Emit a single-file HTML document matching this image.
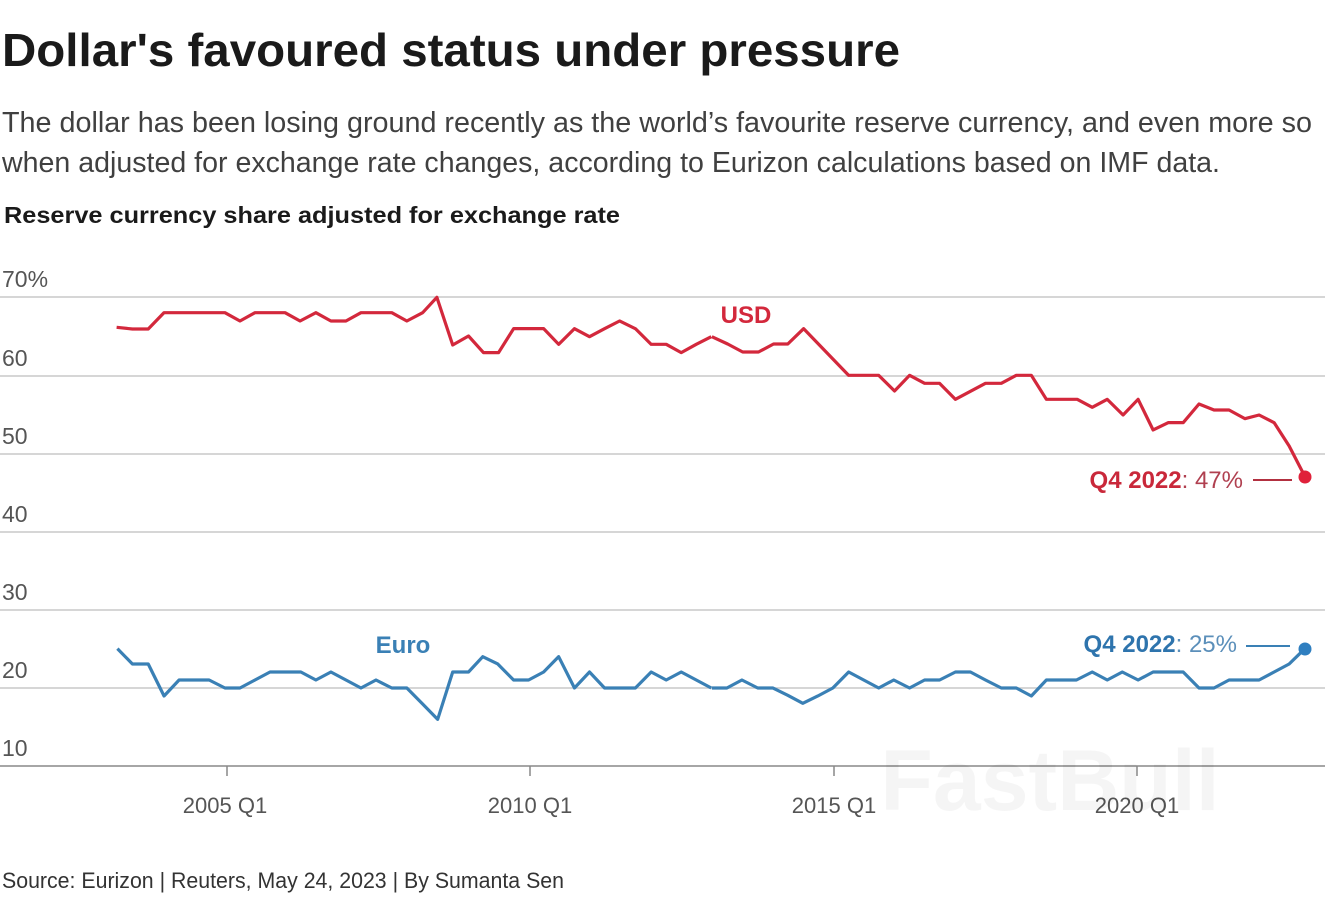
<!DOCTYPE html>
<html><head><meta charset="utf-8"><style>html,body{margin:0;padding:0;background:#fff}svg{display:block}</style></head><body>
<svg width="1328" height="900" viewBox="0 0 1328 900" xmlns="http://www.w3.org/2000/svg" font-family="Liberation Sans, sans-serif">
<text x="2" y="66" font-size="46" font-weight="bold" fill="#1a1a1a" textLength="898" lengthAdjust="spacingAndGlyphs">Dollar's favoured status under pressure</text>
<text x="2" y="132" font-size="29" fill="#404040" textLength="1310" lengthAdjust="spacingAndGlyphs">The dollar has been losing ground recently as the world’s favourite reserve currency, and even more so</text>
<text x="2" y="172" font-size="29" fill="#404040" textLength="1218" lengthAdjust="spacingAndGlyphs">when adjusted for exchange rate changes, according to Eurizon calculations based on IMF data.</text>
<text x="4" y="223" font-size="23" font-weight="bold" fill="#1a1a1a" textLength="616" lengthAdjust="spacingAndGlyphs">Reserve currency share adjusted for exchange rate</text>
<g stroke="#c8c8c8" stroke-width="1.5">
<line x1="0" x2="1325" y1="297" y2="297"/><line x1="0" x2="1325" y1="376" y2="376"/><line x1="0" x2="1325" y1="454" y2="454"/><line x1="0" x2="1325" y1="532" y2="532"/><line x1="0" x2="1325" y1="610" y2="610"/><line x1="0" x2="1325" y1="688" y2="688"/>
</g>
<line x1="0" x2="1325" y1="766" y2="766" stroke="#888" stroke-width="1.5"/>
<g stroke="#888" stroke-width="1.5"><line x1="227" x2="227" y1="766" y2="776"/><line x1="530" x2="530" y1="766" y2="776"/><line x1="834" x2="834" y1="766" y2="776"/><line x1="1137" x2="1137" y1="766" y2="776"/></g>
<g font-size="23" fill="#555">
<text x="2" y="287">70%</text><text x="2" y="366">60</text><text x="2" y="444">50</text><text x="2" y="522">40</text><text x="2" y="600">30</text><text x="2" y="678">20</text><text x="2" y="756">10</text>
</g>
<g font-size="22" fill="#555" text-anchor="middle">
<text x="225" y="813">2005 Q1</text><text x="530" y="813">2010 Q1</text><text x="834" y="813">2015 Q1</text><text x="1137" y="813">2020 Q1</text>
</g>
<text x="1050" y="810" font-size="86" font-weight="bold" fill="#000" fill-opacity="0.04" text-anchor="middle">FastBull</text>
<g fill="none" stroke="#d3283c" stroke-width="3.2" stroke-linejoin="round">
<polyline vector-effect="non-scaling-stroke" transform="translate(100,280) scale(0.3954,0.3333)" points="42,142 82,147 122,147 162,98 200,98 240,98 278,98 316,98 354,123 392,98 430,98 468,98 506,123 546,98 584,123 622,123 660,98 698,98 738,98 776,123 816,98 852,52 892,195 932,168 970,218 1008,218 1046,146 1084,146 1122,146 1160,193 1200,146 1238,170 1276,146 1314,123 1354,146 1394,193 1432,193 1470,218 1508,193 1546,170"/>
<polyline vector-effect="non-scaling-stroke" transform="translate(700,310) scale(0.3954,0.3333)" points="30,80 70,102 108,126 148,126 186,102 222,102 262,56 376,196 414,196 452,196 492,243 530,196 568,220 606,220 646,268 684,244 722,220 762,220 800,196 838,196 876,268 916,268 954,268 992,292 1030,268 1070,315 1108,268 1146,360 1184,338 1222,338 1262,282 1300,300 1338,300 1378,326 1414,315 1452,338 1490,408 1530,500"/>
</g>
<circle cx="1305" cy="477" r="6.5" fill="#e0213a"/>
<line x1="1253" x2="1292" y1="480" y2="480" stroke="#b23040" stroke-width="2"/>
<text x="1243" y="488" font-size="24" text-anchor="end" fill="#c9283a"><tspan font-weight="bold">Q4 2022</tspan><tspan fill="#b04050">: 47%</tspan></text>
<text x="746" y="323" font-size="24" font-weight="bold" fill="#d3283c" text-anchor="middle">USD</text>
<g fill="none" stroke="#3a80b5" stroke-width="3.2" stroke-linejoin="round">
<polyline vector-effect="non-scaling-stroke" transform="translate(100,630) scale(0.3954,0.3333)" points="44,56 82,102 122,102 162,198 200,150 238,150 276,150 316,174 354,174 392,150 430,126 468,126 508,126 546,150 584,126 622,150 660,174 698,150 738,174 776,174 816,222 854,268 892,126 932,126 968,80 1006,102 1046,150 1084,150 1122,126 1160,80 1200,174 1238,126 1276,174 1314,174 1354,174 1394,126 1432,150 1470,126 1508,150 1546,174"/>
<polyline vector-effect="non-scaling-stroke" transform="translate(700,620) scale(0.3954,0.3333)" points="30,204 68,204 106,180 146,204 184,204 222,226 260,250 298,228 336,204 376,156 414,180 452,204 490,180 530,204 568,180 606,180 646,156 684,156 722,180 762,204 800,204 838,228 876,180 914,180 952,180 992,156 1030,180 1068,156 1108,180 1146,156 1184,156 1222,156 1262,204 1300,204 1338,180 1376,180 1414,180 1452,156 1490,132 1528,88"/>
</g>
<circle cx="1305" cy="649" r="6.5" fill="#2f7fc0"/>
<line x1="1246" x2="1290" y1="646" y2="646" stroke="#3a80b5" stroke-width="2"/>
<text x="1237" y="652" font-size="24" text-anchor="end" fill="#2e74ad"><tspan font-weight="bold">Q4 2022</tspan><tspan fill="#5b8fba">: 25%</tspan></text>
<text x="403" y="653" font-size="24" font-weight="bold" fill="#3a80b5" text-anchor="middle">Euro</text>
<text x="2" y="888" font-size="22" fill="#333" textLength="562" lengthAdjust="spacingAndGlyphs">Source: Eurizon | Reuters, May 24, 2023 | By Sumanta Sen</text>
</svg>
</body></html>
